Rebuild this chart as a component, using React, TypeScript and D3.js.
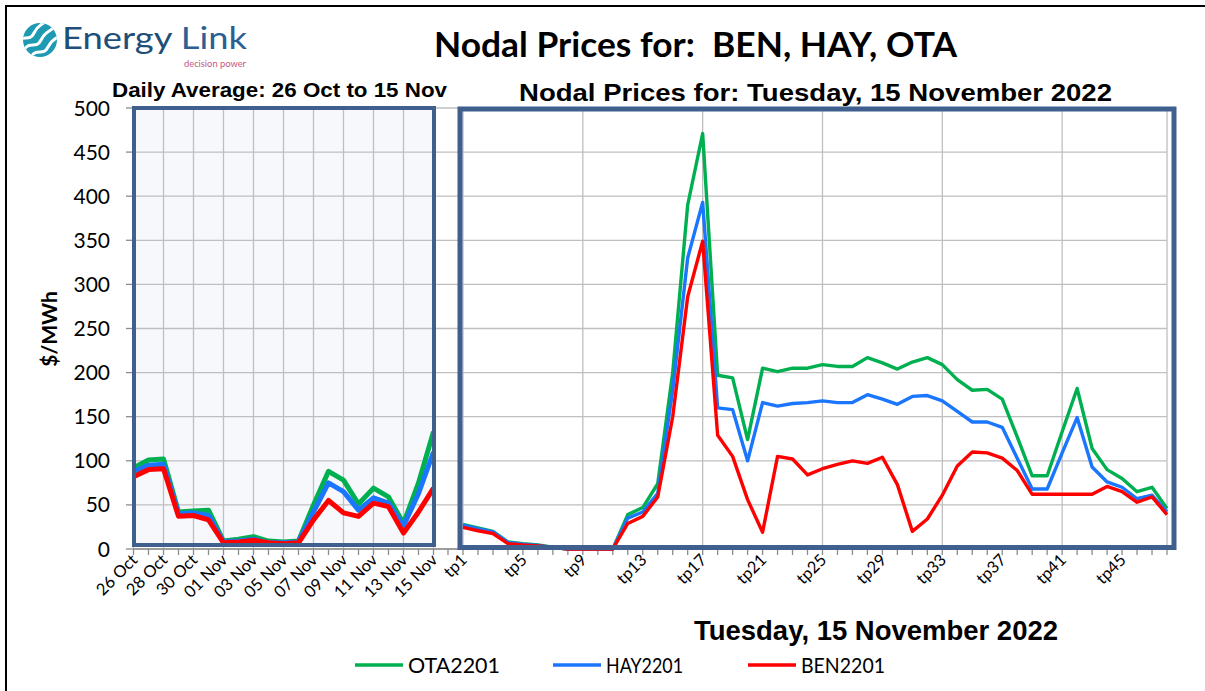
import React, { useRef, useEffect } from "react";
import * as d3 from "d3";

const WIDTH = 1205;
const HEIGHT = 691;

const dates = [
  "26 Oct", "27 Oct", "28 Oct", "29 Oct", "30 Oct", "31 Oct",
  "01 Nov", "02 Nov", "03 Nov", "04 Nov", "05 Nov", "06 Nov", "07 Nov",
  "08 Nov", "09 Nov", "10 Nov", "11 Nov", "12 Nov", "13 Nov", "14 Nov", "15 Nov",
];
const dailyOTA = [92, 101, 102, 42, 43, 44, 9, 11, 14, 9, 8, 9, 50, 88, 78, 51, 69, 59, 29, 75, 133];
const dailyHAY = [88, 95, 96, 40, 41, 38, 8, 9, 11, 7, 7, 8, 42, 75, 65, 44, 58, 52, 26, 63, 110];
const dailyBEN = [82, 90, 91, 37, 38, 33, 7, 8, 10, 7, 6, 7, 33, 55, 41, 37, 52, 48, 18, 42, 69];

const tps = d3.range(1, 49).map(i => "tp" + i);
const tpOTA = [28, 24, 20, 8, 6, 4.5, 2, 0, 0, 0, 0, 39, 47, 74, 200, 390, 471, 197, 194, 124, 205, 201, 205, 205,
  209, 207, 207, 217, 211, 204, 212, 217, 209, 192, 180, 181, 170, 127, 83, 83, 133, 182, 114, 90, 80, 65, 70, 46];
const tpHAY = [27, 23, 19.5, 7.5, 5.5, 4, 1.5, 0, 0, 0, 0, 35, 42, 63, 180, 330, 393, 160, 158, 100, 166, 162, 165, 166,
  168, 166, 166, 175, 170, 164, 173, 174, 168, 156, 144, 144, 138, 103, 68, 68, 109, 149, 93, 76, 70, 57, 61, 42];
const tpBEN = [24.5, 20.7, 17.6, 6, 4.5, 3.4, 2, 0, 0, 0, 0, 29, 37, 59, 150, 286, 349, 129, 105, 56, 19, 105, 102, 84,
  91, 96, 100, 97, 104, 73, 20, 34, 61, 94, 110, 109, 103, 89, 62, 62, 62, 62, 62, 71, 65, 53, 59, 39];

const yTicks = d3.range(0, 501, 50);

const series = [
  { name: "OTA2201", color: "#00B050", daily: dailyOTA, tp: tpOTA },
  { name: "HAY2201", color: "#1A75FF", daily: dailyHAY, tp: tpHAY },
  { name: "BEN2201", color: "#FF0000", daily: dailyBEN, tp: tpBEN },
];

const BORDER = "#3F5F8E";
const GRID = "#BFBFBF";
const CALIBRI = "Lato, 'Open Sans', sans-serif";
const ARIAL = "'Liberation Sans', Arial, sans-serif";
const NARROW = "'Liberation Sans Narrow', 'Arial Narrow', 'Liberation Sans', sans-serif";

function App() {
  const svgRef = useRef(null);

  useEffect(() => {
    const svg = d3.select(svgRef.current);
    svg.selectAll("*").remove();

    const y = d3.scaleLinear().domain([0, 500]).range([549, 108]);
    const xL = d3.scalePoint().domain(dates).range([133.5, 433.5]);
    const xR = d3.scalePoint().domain(tps).range([463, 1167]);
    const blankX = 448;

    // outer frame
    svg.append("path")
      .attr("d", "M6,691 V6 H1205")
      .attr("fill", "none")
      .attr("stroke", "#000")
      .attr("stroke-width", 2);

    // logo
    const logo = svg.append("g");
    logo.append("clipPath").attr("id", "logoClip")
      .append("circle").attr("cx", 40).attr("cy", 40).attr("r", 17);
    logo.append("circle").attr("cx", 40).attr("cy", 40).attr("r", 17).attr("fill", "#1E9AB2");
    const waves = logo.append("g").attr("clip-path", "url(#logoClip)");
    [-7, 0, 7].forEach(o => {
      waves.append("path")
        .attr("d", `M${24 + o},${50 + o} C${30 + o},${40 + o} ${36 + o},${50 + o} ${41 + o},${40 + o} S${50 + o},${32 + o} ${56 + o},${26 + o}`)
        .attr("fill", "none")
        .attr("stroke", "#fff")
        .attr("stroke-width", 3)
        .attr("stroke-linecap", "round");
    });
    logo.append("text")
      .attr("x", 62).attr("y", 49)
      .attr("font-family", CALIBRI).attr("font-size", 30)
      .attr("textLength", 185).attr("lengthAdjust", "spacingAndGlyphs")
      .html('<tspan fill="#1F4E79">Energy</tspan><tspan fill="#2A6094"> Link</tspan>');
    logo.append("text")
      .attr("x", 184).attr("y", 67)
      .attr("font-family", CALIBRI).attr("font-size", 9.5)
      .attr("fill", "#C9577A")
      .attr("textLength", 62).attr("lengthAdjust", "spacingAndGlyphs")
      .text("decision power");

    // titles
    svg.append("text")
      .attr("x", 434).attr("y", 57)
      .attr("font-family", CALIBRI).attr("font-weight", 700).attr("font-size", 34)
      .attr("textLength", 523).attr("lengthAdjust", "spacingAndGlyphs")
      .attr("xml:space", "preserve")
      .text("Nodal Prices for:  BEN, HAY, OTA");
    svg.append("text")
      .attr("x", 112).attr("y", 97)
      .attr("font-family", ARIAL).attr("font-weight", 700).attr("font-size", 19.5)
      .attr("textLength", 335).attr("lengthAdjust", "spacingAndGlyphs")
      .text("Daily Average: 26 Oct to 15 Nov");
    svg.append("text")
      .attr("x", 519).attr("y", 101)
      .attr("font-family", ARIAL).attr("font-weight", 700).attr("font-size", 23)
      .attr("textLength", 593).attr("lengthAdjust", "spacingAndGlyphs")
      .text("Nodal Prices for: Tuesday, 15 November 2022");

    // left panel background
    svg.append("rect")
      .attr("x", 134).attr("y", 108).attr("width", 300).attr("height", 437)
      .attr("fill", "#F6F8FC");

    // gridlines
    svg.append("g").selectAll("line").data(yTicks).enter().append("line")
      .attr("x1", 133).attr("x2", 1167)
      .attr("y1", d => y(d)).attr("y2", d => y(d))
      .attr("stroke", GRID).attr("stroke-width", 1.3);
    svg.append("g").selectAll("line").data(dates.filter((d, i) => i % 2 === 0)).enter().append("line")
      .attr("x1", d => xL(d)).attr("x2", d => xL(d))
      .attr("y1", y(500)).attr("y2", y(0))
      .attr("stroke", GRID).attr("stroke-width", 1.3);
    svg.append("g").selectAll("line").data(tps.filter((d, i) => i % 8 === 0 || i === 47)).enter().append("line")
      .attr("x1", d => xR(d)).attr("x2", d => xR(d))
      .attr("y1", y(500)).attr("y2", y(0))
      .attr("stroke", GRID).attr("stroke-width", 1.3);

    // axis lines and ticks
    svg.append("line")
      .attr("x1", 133).attr("x2", 1167).attr("y1", y(0)).attr("y2", y(0))
      .attr("stroke", "#8C8C8C").attr("stroke-width", 1.3);
    svg.append("g").selectAll("line").data(yTicks).enter().append("line")
      .attr("x1", 126).attr("x2", 133)
      .attr("y1", d => y(d)).attr("y2", d => y(d))
      .attr("stroke", "#8C8C8C").attr("stroke-width", 1.3);
    const tickXs = dates.map(d => xL(d)).concat([blankX], tps.map(d => xR(d)));
    svg.append("g").selectAll("line").data(tickXs).enter().append("line")
      .attr("x1", d => d).attr("x2", d => d)
      .attr("y1", y(0)).attr("y2", y(0) + 6)
      .attr("stroke", "#8C8C8C").attr("stroke-width", 1.3);

    // y tick labels
    svg.append("g").selectAll("text").data(yTicks).enter().append("text")
      .attr("x", 110).attr("y", d => y(d) + 7.5)
      .attr("text-anchor", "end")
      .attr("font-family", CALIBRI).attr("font-size", 21)
      .attr("fill", "#000")
      .text(d => d);

    svg.append("text")
      .attr("transform", "translate(57,329) rotate(-90)")
      .attr("text-anchor", "middle")
      .attr("font-family", CALIBRI).attr("font-weight", 700).attr("font-size", 21)
      .text("$/MWh");

    // x tick labels
    svg.append("g").selectAll("text").data(dates.filter((d, i) => i % 2 === 0)).enter().append("text")
      .attr("transform", d => `translate(${xL(d) + 5},${y(0) + 12}) rotate(-45)`)
      .attr("text-anchor", "end")
      .attr("font-family", CALIBRI).attr("font-size", 16.5)
      .text(d => d);
    svg.append("g").selectAll("text").data(tps.filter((d, i) => i % 4 === 0)).enter().append("text")
      .attr("transform", d => `translate(${xR(d) + 5},${y(0) + 12}) rotate(-45)`)
      .attr("text-anchor", "end")
      .attr("font-family", CALIBRI).attr("font-size", 16.5)
      .text(d => d);

    svg.append("text")
      .attr("x", 694).attr("y", 640)
      .attr("font-family", NARROW).attr("font-weight", 700).attr("font-size", 28)
      .attr("textLength", 364).attr("lengthAdjust", "spacingAndGlyphs")
      .text("Tuesday, 15 November 2022");

    // series lines
    const lineL = d3.line().x((d, i) => xL(dates[i])).y(d => y(d));
    const lineR = d3.line().x((d, i) => xR(tps[i])).y(d => y(d));
    series.forEach(s => {
      svg.append("path")
        .attr("d", lineL(s.daily))
        .attr("fill", "none").attr("stroke", s.color)
        .attr("stroke-width", 5).attr("stroke-linejoin", "round");
    });
    series.forEach(s => {
      svg.append("path")
        .attr("d", lineR(s.tp))
        .attr("fill", "none").attr("stroke", s.color)
        .attr("stroke-width", 3.4).attr("stroke-linejoin", "round");
    });

    // panel borders
    svg.append("rect")
      .attr("x", 134).attr("y", 108).attr("width", 300).attr("height", 437)
      .attr("fill", "none").attr("stroke", BORDER).attr("stroke-width", 4);
    svg.append("rect")
      .attr("x", 460).attr("y", 109).attr("width", 714).attr("height", 438.5)
      .attr("fill", "none").attr("stroke", BORDER).attr("stroke-width", 5);

    // legend
    const legendX = [355, 553, 748];
    series.forEach((s, i) => {
      const g = svg.append("g").attr("transform", `translate(${legendX[i]},0)`);
      g.append("line")
        .attr("x1", 0).attr("x2", 48).attr("y1", 665).attr("y2", 665)
        .attr("stroke", s.color).attr("stroke-width", 3.5);
      g.append("text")
        .attr("x", 53).attr("y", 672.5)
        .attr("font-family", CALIBRI).attr("font-size", 22)
        .attr("textLength", i === 0 ? 92 : i === 1 ? 77 : 84).attr("lengthAdjust", "spacingAndGlyphs")
        .text(s.name);
    });
  }, []);

  return (
    <svg
      ref={svgRef}
      width={WIDTH}
      height={HEIGHT}
      style={{ position: "absolute", left: 0, top: 0, background: "#fff" }}
    ></svg>
  );
}

export default App;
